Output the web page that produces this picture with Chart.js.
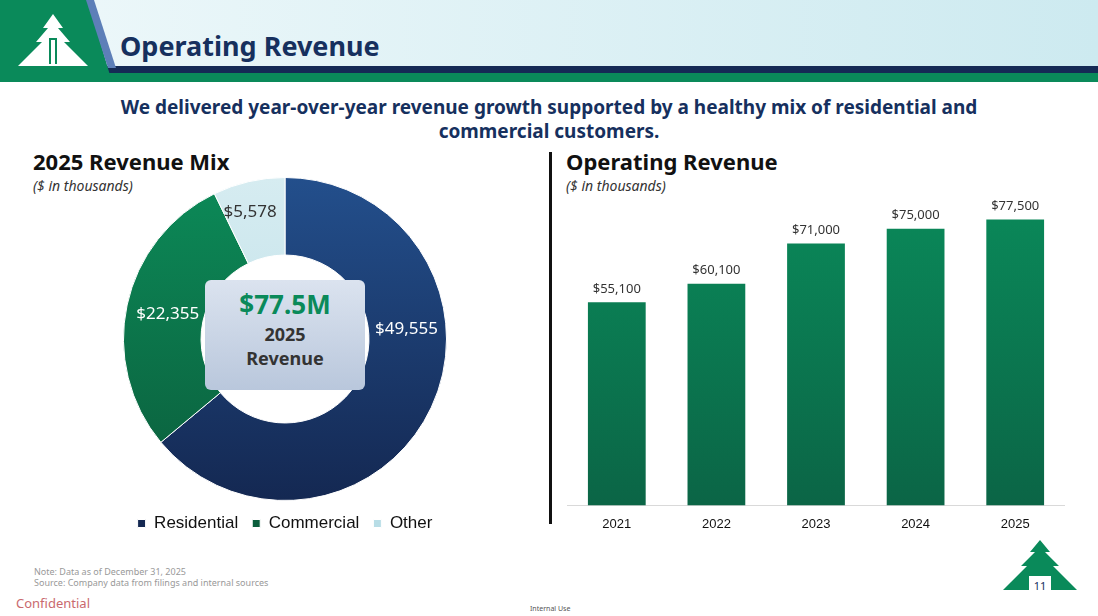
<!DOCTYPE html>
<html><head><meta charset="utf-8">
<script src="https://cdn.jsdelivr.net/npm/chart.js@4.4.0/dist/chart.umd.min.js"></script>
<style>
body{margin:0;width:1098px;height:616px;position:relative;background:#fff;font-family:"Noto Sans",sans-serif;overflow:hidden}
.abs{position:absolute}
#hdr{left:0;top:0;width:1098px;height:68px;background:linear-gradient(90deg,#eef8fa,#cdeaf0)}
#navy{left:100px;top:66px;width:998px;height:7px;background:#152a55}
#grn{left:0;top:73px;width:1098px;height:9px;background:#0a8a5a}
#tri{left:0;top:0;width:112px;height:82px;background:#0a8a5a;clip-path:polygon(0 0,88px 0,112px 82px,0 82px)}
#sl{left:86px;top:0;width:30px;height:68px;background:#5d7fb8;clip-path:polygon(0 0,8px 0,30px 68px,22px 68px)}
h1{position:absolute;left:120px;top:27px;margin:0;font-size:27px;color:#16305e;font-weight:700}
.sub{left:0;width:1098px;top:95px;text-align:center;font-size:19px;font-weight:700;color:#16305e;line-height:24px}
.t{font-size:22px;font-weight:700;color:#111}
.it{font-size:14px;font-style:italic;color:#333}
</style></head><body>
<div class="abs" id="hdr"></div><div class="abs" id="navy"></div><div class="abs" id="grn"></div>
<div class="abs" id="tri"></div><div class="abs" id="sl"></div>
<svg class="abs" style="left:18px;top:14px" width="70" height="58" viewBox="0 0 70 58"><path d="M35 0 L45 14 L40 14 L52 28 L46 28 L62 44 L70 52 L0 52 L8 44 L24 28 L18 28 L30 14 L25 14Z" fill="#fff"/><rect x="31" y="24" width="8" height="26" fill="#0a8a5a"/><rect x="33" y="26" width="4" height="24" fill="#fff"/></svg>
<h1>Operating Revenue</h1>
<div class="abs sub">We delivered year-over-year revenue growth supported by a healthy mix of residential and<br>commercial customers.</div>
<div class="abs t" style="left:33px;top:146px">2025 Revenue Mix</div>
<div class="abs it" style="left:33px;top:176px">($ in thousands)</div>
<div class="abs t" style="left:566px;top:146px">Operating Revenue</div>
<div class="abs it" style="left:566px;top:176px">($ in thousands)</div>
<div class="abs" style="left:549px;top:152px;width:3px;height:372px;background:#111"></div>
<div class="abs" style="left:0;top:0;width:570px;height:542px"><canvas id="pie" width="570" height="542"></canvas></div>
<div class="abs" style="left:205px;top:280px;width:160px;height:110px;background:linear-gradient(180deg,#dbe3ef,#b9c7dc);border-radius:6px;text-align:center">
<div style="font-size:26px;font-weight:700;color:#0a8a5a;margin-top:6px">$77.5M</div>
<div style="font-size:18px;font-weight:700;color:#333;line-height:24px">2025<br>Revenue</div></div>
<div class="abs" style="left:567px;top:190px;width:498px;height:345px"><canvas id="bar" width="498" height="345"></canvas></div>
<div class="abs" style="left:34px;top:566px;font-size:9px;color:#999;line-height:11px">Note: Data as of December 31, 2025<br>Source: Company data from filings and internal sources</div>
<div class="abs" style="left:16px;top:594px;font-size:13px;color:#c9696e">Confidential</div>
<div class="abs" style="left:530px;top:604px;font-size:7px;color:#555">Internal Use</div>
<svg class="abs" style="left:1003px;top:540px" width="74" height="56" viewBox="0 0 74 56"><path d="M37 0 L47 12 L42 12 L56 26 L50 26 L66 42 L74 50 L0 50 L8 42 L24 26 L18 26 L32 12 L27 12Z" fill="#0a8a5a"/><rect x="26" y="36" width="22" height="18" fill="#fff"/><text x="37" y="50" font-size="11" text-anchor="middle" fill="#16305e">11</text></svg>
<script>
const mixLabels = ["Residential","Commercial","Other"];
const mixValues = [49555, 22355, 5578];
const years = ["2021","2022","2023","2024","2025"];
const revenue = [55100, 60100, 71000, 75000, 77500];
const fmt = v => "$" + v.toLocaleString("en-US");

function grad(ctx, area, top, bot){
  if(!area) return top;
  const g = ctx.createLinearGradient(0, area.top, 0, area.bottom);
  g.addColorStop(0, top); g.addColorStop(1, bot); return g;
}

// where along each slice (0..1) and how far out the donut labels sit
const sliceSpot = [[0.37, 122], [0.5, 120], [0.41, 132]];

const labelPlugin = {
  id: "lbl",
  afterDraw(chart){
    const ctx = chart.ctx, meta = chart.getDatasetMeta(0);
    ctx.save();
    ctx.textAlign = "center"; ctx.textBaseline = "middle";
    meta.data.forEach((el, i) => {
      const v = chart.data.datasets[0].data[i];
      if(chart.config.type === "doughnut"){
        const a = el.startAngle + (el.endAngle - el.startAngle) * sliceSpot[i][0];
        const r = sliceSpot[i][1];
        ctx.font = "17px 'Noto Sans'";
        ctx.fillStyle = i === 2 ? "#333" : "#fff";
        ctx.fillText(fmt(v), el.x + Math.cos(a)*r, el.y + Math.sin(a)*r);
      } else {
        ctx.font = "13px 'Noto Sans'"; ctx.fillStyle = "#333";
        ctx.fillText(fmt(v), el.x, el.y - 13);
      }
    });
    ctx.restore();
  }
};

new Chart(document.getElementById("pie"), {
  type: "doughnut",
  data: { labels: mixLabels, datasets: [{ data: mixValues, borderColor: "#fff", borderWidth: 1,
    backgroundColor: c => { const a = c.chart.chartArea; const cx = c.chart.ctx;
      return [grad(cx,a,"#234f8c","#142852"), grad(cx,a,"#0c8a58","#0b5e3c"), grad(cx,a,"#d6ecf1","#b8dde6")][c.dataIndex]; } }] },
  options: { responsive:false, animation:false, cutout:"52%",
    layout:{ padding:{ top:177, bottom:0, left:0, right:0 } },
    plugins:{ tooltip:{enabled:false},
      legend:{ position:"bottom", labels:{ boxWidth:8, boxHeight:8, padding:14, color:"#111", font:{ family:"Arial", size:17 } } } } },
  plugins:[labelPlugin]
});

new Chart(document.getElementById("bar"), {
  type: "bar",
  data: { labels: years, datasets: [{ data: revenue, categoryPercentage:0.58, barPercentage:1,
    backgroundColor: c => grad(c.chart.ctx, c.chart.chartArea, "#0a8a5a", "#0b6546") }] },
  options: { responsive:false, animation:false,
    layout:{ padding:{ left:0, right:0 } },
    scales:{ y:{ display:false, min:0, max:85500 },
      x:{ grid:{ display:false }, border:{ color:"#d9d9d9" },
        ticks:{ color:"#111", font:{ family:"Arial", size:13 }, padding:3 } } },
    plugins:{ legend:{display:false}, tooltip:{enabled:false} } },
  plugins:[labelPlugin]
});
</script></body></html>
